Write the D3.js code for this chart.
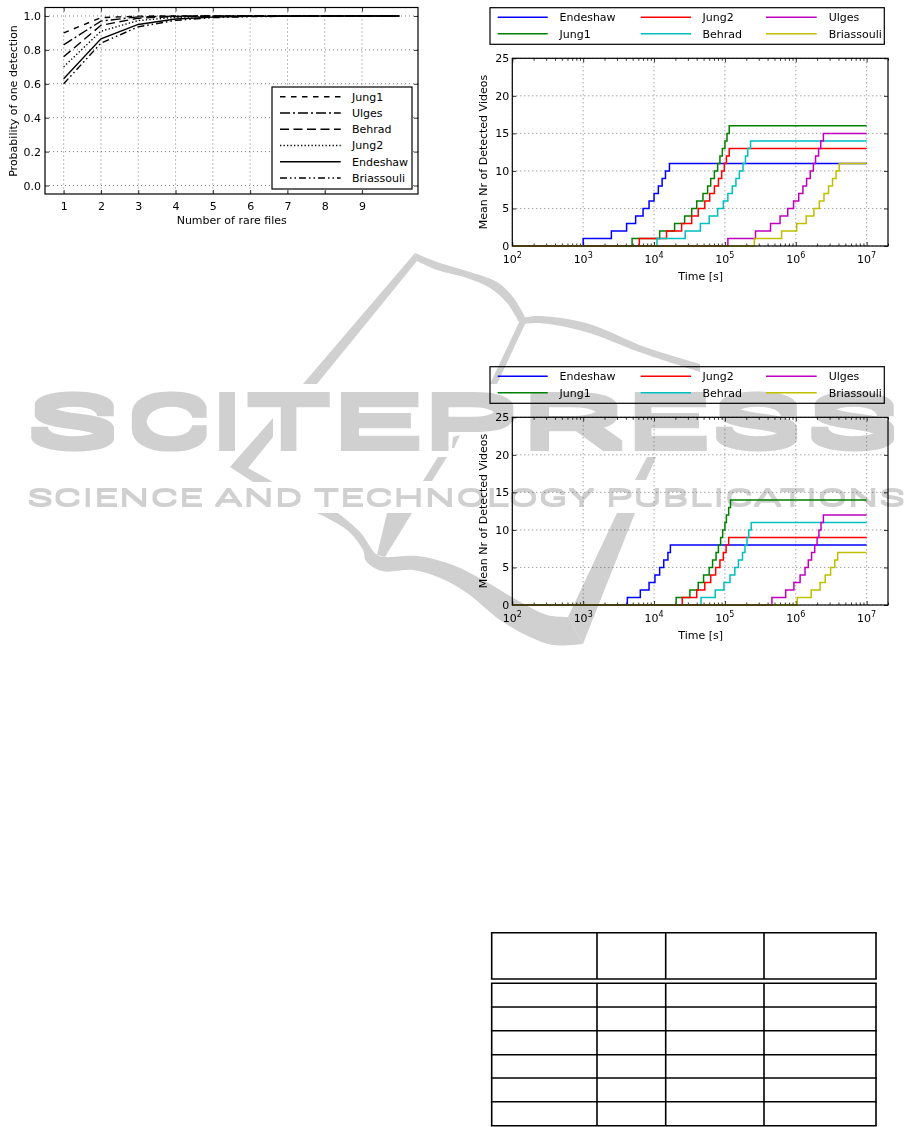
<!DOCTYPE html>
<html><head><meta charset="utf-8">
<script src="https://cdn.jsdelivr.net/npm/d3@7/dist/d3.min.js"></script>
<style>
html,body{margin:0;padding:0;background:#fff;overflow:hidden}
svg{display:block}
text{font-family:"DejaVu Sans",sans-serif;fill:#000}
.soft{filter:blur(0.4px)}
.watermark text{font-family:Roboto,sans-serif;font-weight:400}
</style></head><body>
<svg id="page" width="915" height="1127">
  <defs>
    <filter id="wmBig" filterUnits="userSpaceOnUse" x="0" y="370" width="915" height="100"><feMorphology operator="dilate" radius="1 4.5"/></filter>
    <filter id="wmSmall" filterUnits="userSpaceOnUse" x="0" y="470" width="915" height="50"><feMorphology operator="dilate" radius="0.3 1.2"/></filter>
  </defs>
</svg>
<script>
// ---- chart 1: probability of one detection
const rareFiles = [1,2,3,4,5,6,7,8,9,10];
const probJung1      = [0.90,0.990,0.999,1,1,1,1,1,1,1];
const probUlges      = [0.83,0.970,0.995,0.999,1,1,1,1,1,1];
const probBehrad     = [0.76,0.945,0.987,0.997,0.999,1,1,1,1,1];
const probJung2      = [0.70,0.910,0.973,0.992,0.998,0.999,1,1,1,1];
const probEndeshaw   = [0.63,0.865,0.950,0.982,0.993,0.998,0.999,1,1,1];
const probBriassouli = [0.60,0.840,0.936,0.974,0.990,0.996,0.998,0.999,1,1];
const probNames = ["Jung1","Ulges","Behrad","Jung2","Endeshaw","Briassouli"];
const probSeries = [probJung1,probUlges,probBehrad,probJung2,probEndeshaw,probBriassouli];
const probDashes = ["5.5,5.5","10,3,2,3","9,4.5","1.3,2.2",null,"7,3,1.5,3,1.5,3"];
const probXTicks = [1,2,3,4,5,6,7,8,9];
const probYTicks = [0,0.2,0.4,0.6,0.8,1.0];

// ---- charts 2 and 3: detection times (s) of videos 1, 2, 3, ...
const seriesNames  = ["Endeshaw","Jung1","Jung2","Behrad","Ulges","Briassouli"];
const seriesColors = ["#0000ff","#008000","#ff0000","#00bfbf","#bf00bf","#bfbf00"];

const topEndeshaw   = [1.0e3,2.5e3,4.1e3,5.5e3,7.0e3,8.5e3,1.0e4,1.15e4,1.3e4,1.45e4,1.65e4];
const topJung1      = [4.9e3,1.2e4,1.95e4,2.7e4,3.4e4,4.0e4,4.9e4,5.7e4,6.3e4,7.1e4,7.9e4,8.5e4,9.2e4,1.0e5,1.07e5,1.15e5];
const topJung2      = [6.2e3,1.5e4,2.45e4,3.4e4,4.2e4,5.2e4,6.1e4,7.1e4,8.1e4,9.0e4,9.8e4,1.05e5,1.15e5];
const topBehrad     = [1.1e4,2.75e4,4.5e4,6.0e4,7.9e4,9.5e4,1.1e5,1.27e5,1.43e5,1.6e5,1.8e5,1.95e5,2.1e5,2.3e5];
const topUlges      = [1.1e5,2.7e5,4.4e5,6.0e5,7.7e5,9.3e5,1.1e6,1.26e6,1.42e6,1.6e6,1.77e6,1.9e6,2.1e6,2.25e6,2.45e6];
const topBriassouli = [2.6e5,6.3e5,1.03e6,1.4e6,1.8e6,2.15e6,2.5e6,2.9e6,3.3e6,3.7e6,4.1e6];

const lowEndeshaw   = [4.2e3,6.4e3,8.5e3,1.03e4,1.2e4,1.37e4,1.57e4,1.7e4];
const lowJung1      = [2.05e4,3.2e4,4.2e4,5.0e4,6.0e4,6.7e4,7.5e4,8.1e4,8.7e4,9.3e4,1.0e5,1.05e5,1.13e5,1.2e5];
const lowJung2      = [2.5e4,4.0e4,5.2e4,6.3e4,7.4e4,8.5e4,9.5e4,1.04e5,1.13e5];
const lowBehrad     = [4.6e4,7.3e4,9.7e4,1.18e5,1.38e5,1.55e5,1.77e5,1.92e5,2.05e5,2.17e5,2.35e5];
const lowUlges      = [4.6e5,7.2e5,9.4e5,1.15e6,1.35e6,1.5e6,1.67e6,1.85e6,2.0e6,2.12e6,2.27e6,2.45e6];
const lowBriassouli = [1.05e6,1.65e6,2.2e6,2.6e6,3.1e6,3.55e6,3.9e6];

const timeStart = 100, timeEnd = 1e7;
const timeMajor = [1e2,1e3,1e4,1e5,1e6,1e7];
const countTicks = [0,5,10,15,20,25];

const svg = d3.select("#page");

// ---------- watermark, underneath everything ----------
const wmColor = "#d0d0d0";
const wm = svg.append("g").attr("class","watermark");
const poly = pts => wm.append("polygon").attr("points",pts.map(p=>p.join(",")).join(" ")).attr("fill",wmColor);
const smooth = d3.line().curve(d3.curveCatmullRom);
const blob = (a,b) => wm.append("path").attr("fill",wmColor)
  .attr("d", smooth(a)+"L"+smooth(b.slice().reverse()).slice(1)+"Z");
// left wing
poly([[415,253],[417,261],[317,384],[303,384]]);
// right wing
blob([[415,253],[437,262],[470,272],[497,282],[513,297],[525,317]],
     [[417,261],[437,270],[467,278],[490,288],[507,303],[520,324]]);
blob([[523,318],[537,316],[586,323],[645,347],[700,364]],
     [[523,324],[539,323],[586,332],[639,352],[700,372]]);
poly([[521,318],[526,322],[497,384],[490,384]]);
// arrow piece
poly([[273,418],[273,437],[248,468],[273,482],[253,482],[230,467]]);
// small slashes
poly([[453,437],[460,435],[454,448],[452,448]]);
poly([[438,457],[447,457],[432,481],[423,481]]);
poly([[647,457],[656,457],[646,480],[635,480]]);
// swoosh
blob([[317,513],[347,530],[363,550],[366,561],[382,571],[413,570],[440,578],[467,593],[500,620],[530,637],[553,645],[583,644]],
     [[338,513],[360,532],[377,555],[385,557],[417,556],[453,565],[483,580],[517,600],[547,615],[568,617]]);
poly([[583,644],[635,513],[617,513],[568,617]]);
poly([[387,513],[412,513],[385,557],[377,555]]);
// words
const bigLetters = [["S",26,93],["C",125,87],["I",207,40],["T",245,87],["E",328,96],["P",420,98],["R",517,108],["E",623,88],["S",711,91],["S",806,93]];
const bigWord = wm.append("g").attr("filter","url(#wmBig)");
bigWord.selectAll("text").data(bigLetters).join("text")
  .attr("x",d=>d[1]).attr("y",445.5)
  .attr("textLength",d=>d[2]).attr("lengthAdjust","spacingAndGlyphs")
  .attr("font-size",69).style("fill",wmColor).text(d=>d[0]);
wm.append("g").attr("filter","url(#wmSmall)").append("text").attr("x",27).attr("y",505.8).attr("textLength",878).attr("lengthAdjust","spacingAndGlyphs")
  .attr("font-size",23.3).style("fill",wmColor)
  .text("SCIENCE AND TECHNOLOGY PUBLICATIONS");

// ---------- shared grid helper ----------
function grid(g,x,y,box,xMajor,yMajor){
  const gridStyle = s => s.attr("stroke","#444").attr("stroke-width",0.7).attr("stroke-dasharray","1,3").attr("fill","none");
  g.append("g").selectAll("line").data(xMajor).join("line")
    .attr("x1",x).attr("x2",x).attr("y1",box.t).attr("y2",box.b).call(gridStyle);
  g.append("g").selectAll("line").data(yMajor).join("line")
    .attr("y1",y).attr("y2",y).attr("x1",box.l).attr("x2",box.r).call(gridStyle);
}
const tidy = axes => axes.forEach(a=>{a.select(".domain").remove();a.attr("font-family",null).attr("font-size",null);a.selectAll("text").attr("font-size",11);a.selectAll("line").attr("stroke","#000").attr("stroke-width",0.8)});

// ---------- chart 1 ----------
(function(){
  const box = {l:45,r:418,t:7.5,b:194};
  const g = svg.append("g").attr("class","soft");
  const x = d3.scaleLinear().domain([0.5,10.5]).range([box.l,box.r]);
  const y = d3.scaleLinear().domain([-0.05,1.05]).range([box.b,box.t]);
  grid(g,x,y,box,probXTicks,probYTicks);
  const bottom = g.append("g").attr("transform",`translate(0,${box.b})`)
    .call(d3.axisBottom(x).tickValues(probXTicks).tickFormat(d3.format("d")).tickSizeInner(-4).tickSizeOuter(0).tickPadding(8));
  const top = g.append("g").attr("transform",`translate(0,${box.t})`)
    .call(d3.axisTop(x).tickValues(probXTicks).tickFormat("").tickSizeInner(-4).tickSizeOuter(0));
  const left = g.append("g").attr("transform",`translate(${box.l},0)`)
    .call(d3.axisLeft(y).tickValues(probYTicks).tickFormat(d3.format(".1f")).tickSizeInner(-4).tickSizeOuter(0).tickPadding(4));
  const right = g.append("g").attr("transform",`translate(${box.r},0)`)
    .call(d3.axisRight(y).tickValues(probYTicks).tickFormat("").tickSizeInner(-4).tickSizeOuter(0));
  tidy([bottom,top,left,right]);
  const line = d3.line().x((d,i)=>x(rareFiles[i])).y(d=>y(d));
  probSeries.forEach((s,i)=>{
    g.append("path").attr("d",line(s)).attr("fill","none").attr("stroke","#000").attr("stroke-width",1.4)
      .attr("stroke-dasharray",probDashes[i]);
  });
  g.append("rect").attr("x",box.l).attr("y",box.t).attr("width",box.r-box.l).attr("height",box.b-box.t)
    .attr("fill","none").attr("stroke","#000").attr("stroke-width",1.2);
  g.append("text").attr("x",231.7).attr("y",224).attr("text-anchor","middle").attr("font-size",11).text("Number of rare files");
  g.append("text").attr("transform","translate(17,101) rotate(-90)").attr("text-anchor","middle").attr("font-size",11).text("Probability of one detection");
  // legend
  const lg = g.append("g");
  lg.append("rect").attr("x",272).attr("y",87).attr("width",140).attr("height",102).attr("fill","#fff").attr("stroke","#000").attr("stroke-width",1.2);
  const rowY = d3.scalePoint().domain(probNames).range([96.7,178]);
  probNames.forEach((n,i)=>{
    lg.append("line").attr("x1",280).attr("x2",340.7).attr("y1",rowY(n)).attr("y2",rowY(n))
      .attr("stroke","#000").attr("stroke-width",1.4).attr("stroke-dasharray",probDashes[i]);
    lg.append("text").attr("x",352).attr("y",rowY(n)+4).attr("font-size",11).text(n);
  });
})();

// ---------- charts 2 and 3 ----------
function stepChart(series,box,legendTop,labelCenter){
  const g = svg.append("g").attr("class","soft");
  const x = d3.scaleLog().domain([100,2e7]).range([box.l,box.r]);
  const y = d3.scaleLinear().domain([0,25]).range([box.b,box.t]);
  grid(g,x,y,box,timeMajor,countTicks);
  const minor = [];
  timeMajor.forEach(m=>{ d3.range(2,10).forEach(k=>{ if(m*k<=2e7) minor.push(m*k); }); });
  const bottom = g.append("g").attr("transform",`translate(0,${box.b})`)
    .call(d3.axisBottom(x).tickValues(timeMajor).tickFormat("").tickSizeInner(-4).tickSizeOuter(0));
  const top = g.append("g").attr("transform",`translate(0,${box.t})`)
    .call(d3.axisTop(x).tickValues(timeMajor).tickFormat("").tickSizeInner(-4).tickSizeOuter(0));
  const bottomMinor = g.append("g").attr("transform",`translate(0,${box.b})`)
    .call(d3.axisBottom(x).tickValues(minor).tickFormat("").tickSizeInner(-2.5).tickSizeOuter(0));
  const topMinor = g.append("g").attr("transform",`translate(0,${box.t})`)
    .call(d3.axisTop(x).tickValues(minor).tickFormat("").tickSizeInner(-2.5).tickSizeOuter(0));
  const left = g.append("g").attr("transform",`translate(${box.l},0)`)
    .call(d3.axisLeft(y).tickValues(countTicks).tickFormat(d3.format("d")).tickSizeInner(-4).tickSizeOuter(0).tickPadding(3));
  const right = g.append("g").attr("transform",`translate(${box.r},0)`)
    .call(d3.axisRight(y).tickValues(countTicks).tickFormat("").tickSizeInner(-4).tickSizeOuter(0));
  tidy([bottom,top,bottomMinor,topMinor,left,right]);
  // log tick labels with superscripts
  g.append("g").selectAll("text").data(timeMajor).join("text")
    .attr("x",x).attr("y",box.b+16.5).attr("text-anchor","middle").attr("font-size",11)
    .each(function(d){
      const t = d3.select(this);
      t.append("tspan").text("10");
      t.append("tspan").attr("font-size",8).attr("dy",-5).text(String(Math.round(Math.log10(d))));
    });
  const line = d3.line().curve(d3.curveStepAfter).x(d=>x(d[0])).y(d=>y(d[1]));
  series.forEach((s,i)=>{
    const pts = [[timeStart,0]].concat(s.map((t,k)=>[t,k+1]),[[timeEnd,s.length]]);
    g.append("path").attr("d",line(pts)).attr("fill","none").attr("stroke",seriesColors[i]).attr("stroke-width",1.5);
  });
  g.append("rect").attr("x",box.l).attr("y",box.t).attr("width",box.r-box.l).attr("height",box.b-box.t)
    .attr("fill","none").attr("stroke","#000").attr("stroke-width",1.2);
  g.append("text").attr("x",700.7).attr("y",box.b+33.5).attr("text-anchor","middle").attr("font-size",11).text("Time [s]");
  g.append("text").attr("transform",`translate(487,${labelCenter}) rotate(-90)`).attr("text-anchor","middle").attr("font-size",11).text("Mean Nr of Detected Videos");
  // legend: three columns, filled column-wise
  const lg = g.append("g");
  lg.append("rect").attr("x",490).attr("y",legendTop).attr("width",394.3).attr("height",36.6).attr("fill","none").attr("stroke","#000").attr("stroke-width",1.2);
  const cols = [[497.7,547.7,559.5],[640.7,691,702.5],[766,816.7,828.7]];
  seriesNames.forEach((n,i)=>{
    const c = cols[Math.floor(i/2)], yy = legendTop+(i%2? 26:9.6);
    lg.append("line").attr("x1",c[0]).attr("x2",c[1]).attr("y1",yy).attr("y2",yy).attr("stroke",seriesColors[i]).attr("stroke-width",1.5);
    lg.append("text").attr("x",c[2]).attr("y",yy+4).attr("font-size",11).text(n);
  });
}
stepChart([topEndeshaw,topJung1,topJung2,topBehrad,topUlges,topBriassouli],{l:512.3,r:888,t:58.3,b:246},7.7,152);
stepChart([lowEndeshaw,lowJung1,lowJung2,lowBehrad,lowUlges,lowBriassouli],{l:512.3,r:888,t:417.3,b:605},366.7,511);

// ---------- table ----------
(function(){
  const colEdges = [491.7,597,665.7,764,876];
  const rowEdges = [[932.7,979],[983.3,1007,1030.7,1054.7,1078,1101.7,1125.7]];
  const t = svg.append("g").attr("stroke","#000").attr("stroke-width",1.6);
  rowEdges.forEach(edges=>{
    t.append("g").selectAll("line").data(edges).join("line")
      .attr("x1",colEdges[0]-0.8).attr("x2",colEdges[4]+0.8).attr("y1",d=>d).attr("y2",d=>d);
    t.append("g").selectAll("line").data(colEdges).join("line")
      .attr("x1",d=>d).attr("x2",d=>d).attr("y1",edges[0]).attr("y2",edges[edges.length-1]);
  });
})();
</script>
</body></html>
